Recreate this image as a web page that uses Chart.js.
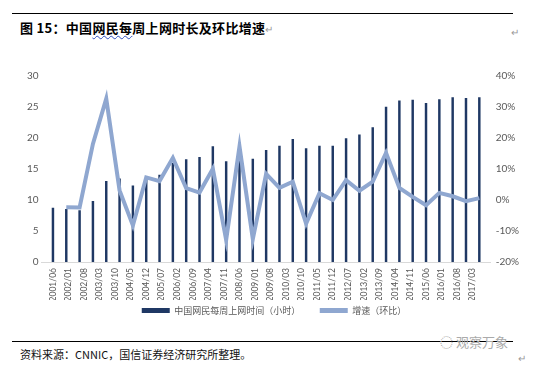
<!DOCTYPE html>
<html><head><meta charset="utf-8">
<script src="https://cdn.jsdelivr.net/npm/chart.js@4/dist/chart.umd.min.js"></script>
<style>
html,body{margin:0;padding:0;background:#fff;width:533px;height:368px;overflow:hidden;position:relative;font-family:"Noto Sans CJK SC",sans-serif;}
.rule{position:absolute;left:12px;width:501px;height:1px;background:#000;}
#title{position:absolute;left:20px;top:18px;font-size:13px;font-weight:bold;color:#000;letter-spacing:0.3px;white-space:nowrap;}
.w{text-decoration:underline wavy #3050c0;text-decoration-thickness:1px;text-underline-offset:2px;}
.pm{color:#999;font-weight:normal;font-size:10px;}
#src{position:absolute;left:20px;top:346px;font-size:11px;color:#111;white-space:nowrap;}
#wm{position:absolute;left:440px;top:332px;font-size:13px;color:#aaa;white-space:nowrap;}
#wrap{position:absolute;left:0;top:58px;width:533px;height:267px;}
</style></head><body>
<div class="rule" style="top:13px"></div>
<div id="title">图 15：中国<span class="w">网民每</span>周上网时长及环比增速<span class="pm">↵</span></div>
<div class="pm" style="position:absolute;left:511px;top:24px;">↵</div>
<div id="wrap"><canvas id="c" width="533" height="267"></canvas></div>
<div class="rule" style="top:341px"></div>
<div id="wm">◌ 观察万象</div>
<div id="src">资料来源：CNNIC，国信证券经济研究所整理。</div>
<div class="pm" style="position:absolute;left:518px;top:350px;">↵</div>
<script>
const periods = ["2001/06","2001/12","2002/06","2002/12","2003/06","2003/12","2004/06","2004/12","2005/06","2005/12","2006/06","2006/12","2007/06","2007/12","2008/06","2008/12","2009/06","2009/12","2010/06","2010/12","2011/06","2011/12","2012/06","2012/12","2013/06","2013/12","2014/06","2014/12","2015/06","2015/12","2016/06","2016/12","2017/06"];
const hoursPerWeek = [8.7,8.5,8.3,9.8,13.0,13.4,12.3,13.2,14.0,15.9,16.5,16.9,18.6,16.2,19.0,16.6,18.0,18.7,19.8,18.3,18.7,18.7,19.9,20.5,21.7,25.0,26.0,26.1,25.6,26.2,26.5,26.4,26.5];
const growthPct = [null,-2.3,-2.4,18.1,32.7,3.1,-8.2,7.3,6.1,13.6,3.8,2.4,10.1,-12.9,17.3,-12.6,8.4,3.9,5.9,-7.6,2.2,0.0,6.4,3.0,5.9,15.2,3.9,1.0,-1.7,2.3,1.2,-0.4,0.6];
const tickLabels = ["2001/06","2002/01","2002/08","2003/03","2003/10","2004/05","2004/12","2005/07","2006/02","2006/09","2007/04","2007/11","2008/06","2009/01","2009/08","2010/03","2010/10","2011/05","2011/12","2012/07","2013/02","2013/09","2014/04","2014/11","2015/06","2016/01","2016/08","2017/03"];
const seriesNames = ["中国网民每周上网时间（小时）","增速（环比）"];

function monthIndex(s){const [y,m]=s.split('/').map(Number);return (y-2001)*12+(m-6);}
function fmtMonth(v){const t=Math.round(v)+5;const y=2001+Math.floor(t/12);const m=t%12+1;return y+'/'+String(m).padStart(2,'0');}

const numFont = {family:'Lato, "Noto Sans CJK SC", sans-serif', size:10};
new Chart(document.getElementById('c'), {
  data: {
    datasets: [
      {type:'bar', label:seriesNames[0], data: periods.map((p,i)=>({x:monthIndex(p), y:hoursPerWeek[i]})),
       backgroundColor:'#1F3864', barThickness:1.8, yAxisID:'y', xAxisID:'x', order:1},
      {type:'line', label:seriesNames[1], data: periods.map((p,i)=>({x:monthIndex(p), y:growthPct[i]})),
       borderColor:'#8FA7D0', backgroundColor:'#8FA7D0', borderWidth:4, pointRadius:0, tension:0,
       yAxisID:'y1', xAxisID:'x', order:0, borderJoinStyle:'miter'}
    ]
  },
  options: {
    responsive:false, animation:false, devicePixelRatio:1,
    layout:{padding:{top:18, left:24, right:9, bottom:0}},
    plugins:{
      tooltip:{enabled:false},
      legend:{position:'bottom', labels:{boxWidth:28, boxHeight:5, padding:6, color:'#595959',
        font:{family:'"Noto Sans CJK SC", sans-serif', size:9},
        generateLabels:(chart)=>{
          const items = Chart.defaults.plugins.legend.labels.generateLabels(chart);
          items.sort((a,b)=>a.datasetIndex-b.datasetIndex);
          items[0].text = items[0].text + '\u3000\u3000';
          items.forEach(it=>{it.lineWidth=0;});
          return items;
        }}}
    },
    scales:{
      x:{type:'linear', min:-1.5, max:193.5, position:'bottom',
        afterBuildTicks:(ax)=>{ax.ticks = tickLabels.map(l=>({value:monthIndex(l)}));},
        afterFit:(sc)=>{sc.height = 38;},
        ticks:{autoSkip:false, minRotation:90, maxRotation:90, color:'#595959', font:{family:'Lato, sans-serif', size:8.5}, padding:6,
          callback:(v)=>fmtMonth(v)},
        grid:{display:false, drawTicks:false}, border:{display:true, color:'#D9D9D9', width:1}},
      y:{position:'left', min:0, max:30, ticks:{stepSize:5, color:'#595959', font:numFont, padding:3},
        grid:{display:false, drawTicks:false}, border:{display:false}},
      y1:{position:'right', min:-20, max:40, ticks:{stepSize:10, color:'#595959', font:numFont, padding:5,
          callback:(v)=>v+'%'},
        grid:{display:false, drawTicks:false}, border:{display:false}}
    }
  }
});
</script>
</body></html>
